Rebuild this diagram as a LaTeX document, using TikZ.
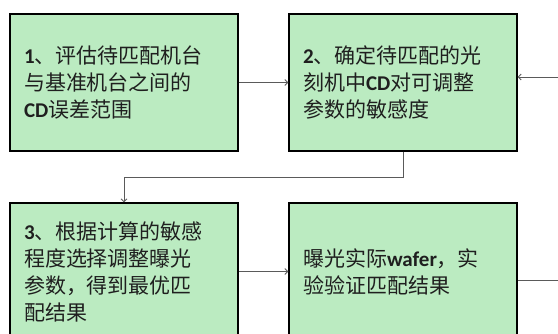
\documentclass[tikz,border=0pt]{standalone}
\usepackage{fontspec}
\setmainfont{Carlito}
\newfontfamily\cjk{Noto Sans CJK SC}
\usetikzlibrary{arrows.meta}
\definecolor{boxfill}{RGB}{187,235,193}
\definecolor{linegray}{RGB}{90,90,90}
\begin{document}
\begin{tikzpicture}[x=1pt,y=-1pt,
  stepbox/.style={draw=black,line width=1.1pt,fill=boxfill,rectangle,
    minimum width=228pt,minimum height=137pt,inner xsep=14pt,
    text width=200pt,align=left,font=\fontsize{21}{27}\selectfont,text=black!88},
  conn/.style={draw=linegray,line width=0.9pt},
  arr/.style={conn,-{Straight Barb[length=3pt,width=6pt]}}]
\useasboundingbox (0,0) rectangle (558,333);
\begin{scope}
\clip (0,0) rectangle (558,333);
\node[stepbox] (b1) at (124,82.5) {\textbf{1}\cjk 、评估待匹配机台\\与基准机台之间的\\\textrm{\textbf{CD}}误差范围};
\node[stepbox] (b2) at (403,82.5) {\textbf{2}\cjk 、确定待匹配的光\\刻机中\textrm{\textbf{CD}}对可调整\\参数的敏感度};
\node[stepbox] (b3) at (124,271.5) {\textbf{3}\cjk 、根据计算的敏感\\程度选择调整曝光\\参数，得到最优匹\\配结果};
\node[stepbox] (b4) at (403,271.5) {\cjk 曝光实际\textrm{\textbf{wafer}}，实\\验验证匹配结果};
\coordinate (rin) at (558,77);
\coordinate (mid) at (0,177);
\coordinate (rout) at (558,280);
\draw[arr] (b1) -- (b2);
\draw[arr] (rin) -- (b2.east |- rin);
\draw[arr] (b2.south) -- (b2.south |- mid) -- (b3.north |- mid) -- (b3.north);
\draw[arr] (b3) -- (b4);
\draw[conn] (b4.east |- rout) -- (rout);
\end{scope}
\end{tikzpicture}
\end{document}
